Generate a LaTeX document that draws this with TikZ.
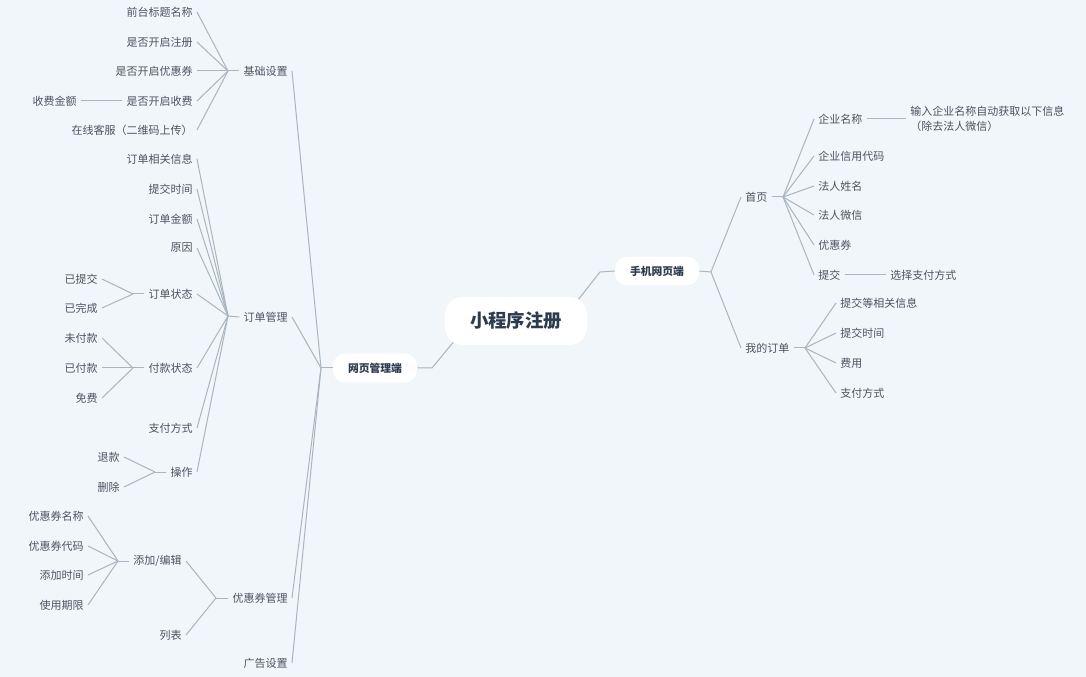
\documentclass[tikz,border=0pt]{standalone}
\usepackage{fontspec}
\newfontfamily\cjk{Noto Sans CJK SC}
\usetikzlibrary{calc}
\definecolor{bg}{HTML}{F0F6FA}
\definecolor{ln}{HTML}{AAB5C0}
\definecolor{txt}{HTML}{4D5461}
\definecolor{title}{HTML}{2D3B50}
\pgfdeclarelayer{bgl}
\pgfdeclarelayer{conl}
\pgfsetlayers{bgl,conl,main}
\tikzset{
  lbl/.style={font=\cjk\fontsize{8.25pt}{11.25pt}\selectfont, text=txt, inner xsep=3pt, inner ysep=1pt},
  lblL/.style={lbl, anchor=east},
  lblR/.style={lbl, anchor=west},
  conn/.style={draw=ln, line width=0.75pt},
  root/.style={fill=white, rounded corners=13pt, minimum width=106.5pt, minimum height=36pt, inner sep=0pt, text=title, font=\cjk\bfseries\fontsize{13.8pt}{16pt}\selectfont},
  sub/.style={fill=white, rounded corners=9pt, minimum width=63pt, minimum height=21.5pt, inner sep=0pt, text=title, font=\cjk\bfseries\fontsize{8.1pt}{10pt}\selectfont}
}
\begin{document}
\begin{tikzpicture}[x=0.75pt,y=-0.75pt]
\begin{pgfonlayer}{bgl}
\fill[bg] (0,0) rectangle (1086,677);
\end{pgfonlayer}
\useasboundingbox (0,0) rectangle (1086,677);

% central and main topics
\node[root] (cen) at (516,321) {小程序注册};
\node[sub] (web) at (375,368) {网页管理端};
\node[sub] (mob) at (657,271) {手机网页端};
\coordinate (cL) at (432,368);
\coordinate (cR) at (600,272);
\begin{pgfonlayer}{conl}
\draw[conn] (web.east) -- (cL) -- ($(cen.center)+(-51,7)$);
\draw[conn] (mob.west) -- (cR) -- ($(cen.center)+(51,-7)$);
\end{pgfonlayer}

% ---------- left: 网页管理端 ----------
\node[lblL] (jcsz) at (292,71) {基础设置};
\node[lblL] (ddgl) at (292,317) {订单管理};
\node[lblL] (yhqgl) at (292,598) {优惠券管理};
\node[lblL] (ggsz) at (292,663) {广告设置};
\coordinate (jW) at (321,368);
\draw[conn] (web.west) -- (jW);
\foreach \n in {jcsz,ddgl,yhqgl,ggsz} \draw[conn] (jW) -- (\n.east);

% 基础设置
\node[lblL] (a1) at (197,12) {前台标题名称};
\node[lblL] (a2) at (197,42) {是否开启注册};
\node[lblL] (a3) at (197,71) {是否开启优惠券};
\node[lblL] (a4) at (197,101) {是否开启收费};
\node[lblL] (a5) at (197,130) {在线客服（二维码上传）};
\node[lblL] (a41) at (81,101) {收费金额};
\coordinate (jA) at (228,71);
\draw[conn] (jcsz.west) -- (jA);
\foreach \n in {a1,a2,a3,a4,a5} \draw[conn] (jA) -- (\n.east);
\draw[conn] (a4.west) -- (a41.east);

% 订单管理
\node[lblL] (b1) at (197,159) {订单相关信息};
\node[lblL] (b2) at (197,189) {提交时间};
\node[lblL] (b3) at (197,219) {订单金额};
\node[lblL] (b4) at (197,248) {原因};
\node[lblL] (b5) at (197,294) {订单状态};
\node[lblL] (b6) at (197,368) {付款状态};
\node[lblL] (b7) at (197,428) {支付方式};
\node[lblL] (b8) at (197,472) {操作};
\coordinate (jB) at (228,316);
\draw[conn] (ddgl.west) -- (jB);
\foreach \n in {b1,b2,b3,b4,b5,b6,b7,b8} \draw[conn] (jB) -- (\n.east);

% 订单状态
\node[lblL] (c1) at (102,279) {已提交};
\node[lblL] (c2) at (102,308) {已完成};
\coordinate (jC) at (133,294);
\draw[conn] (b5.west) -- (jC);
\foreach \n in {c1,c2} \draw[conn] (jC) -- (\n.east);

% 付款状态
\node[lblL] (d1) at (102,338) {未付款};
\node[lblL] (d2) at (102,368) {已付款};
\node[lblL] (d3) at (102,398) {免费};
\coordinate (jD) at (133,368);
\draw[conn] (b6.west) -- (jD);
\foreach \n in {d1,d2,d3} \draw[conn] (jD) -- (\n.east);

% 操作
\node[lblL] (e1) at (124,457) {退款};
\node[lblL] (e2) at (124,487) {删除};
\coordinate (jE) at (155,472);
\draw[conn] (b8.west) -- (jE);
\foreach \n in {e1,e2} \draw[conn] (jE) -- (\n.east);

% 优惠券管理
\node[lblL] (f1) at (186,561) {添加/编辑};
\node[lblL] (f2) at (186,635) {列表};
\coordinate (jF) at (216,598);
\draw[conn] (yhqgl.west) -- (jF);
\foreach \n in {f1,f2} \draw[conn] (jF) -- (\n.east);

% 添加/编辑
\node[lblL] (g1) at (88,516) {优惠券名称};
\node[lblL] (g2) at (88,546) {优惠券代码};
\node[lblL] (g3) at (88,575) {添加时间};
\node[lblL] (g4) at (88,605) {使用期限};
\coordinate (jG) at (118,561);
\draw[conn] (f1.west) -- (jG);
\foreach \n in {g1,g2,g3,g4} \draw[conn] (jG) -- (\n.east);

% ---------- right: 手机网页端 ----------
\node[lblR] (sy) at (741,197) {首页};
\node[lblR] (wddd) at (741,348) {我的订单};
\coordinate (jR) at (711,272);
\draw[conn] (mob.east) -- (jR);
\foreach \n in {sy,wddd} \draw[conn] (jR) -- (\n.west);

% 首页
\node[lblR] (h1) at (814,119) {企业名称};
\node[lblR] (h2) at (814,156) {企业信用代码};
\node[lblR] (h3) at (814,186) {法人姓名};
\node[lblR] (h4) at (814,215) {法人微信};
\node[lblR] (h5) at (814,245) {优惠券};
\node[lblR] (h6) at (814,275) {提交};
\coordinate (jH) at (783,197);
\draw[conn] (sy.east) -- (jH);
\foreach \n in {h1,h2,h3,h4,h5,h6} \draw[conn] (jH) -- (\n.west);
\node[lblR, align=left] (h11) at (906,119) {输入企业名称自动获取以下信息\\（除去法人微信）};
\draw[conn] (h1.east) -- (h11.west);
\node[lblR] (h61) at (886,275) {选择支付方式};
\draw[conn] (h6.east) -- (h61.west);

% 我的订单
\node[lblR] (i1) at (836,303) {提交等相关信息};
\node[lblR] (i2) at (836,333) {提交时间};
\node[lblR] (i3) at (836,363) {费用};
\node[lblR] (i4) at (836,393) {支付方式};
\coordinate (jI) at (805,348);
\draw[conn] (wddd.east) -- (jI);
\foreach \n in {i1,i2,i3,i4} \draw[conn] (jI) -- (\n.west);
\end{tikzpicture}
\end{document}
